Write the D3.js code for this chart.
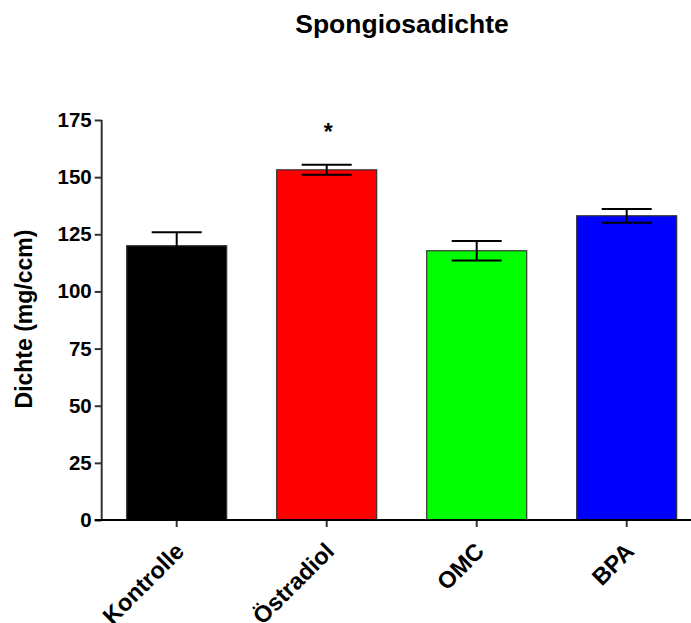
<!DOCTYPE html>
<html>
<head>
<meta charset="utf-8">
<script src="https://cdn.jsdelivr.net/npm/d3@7"></script>
<style>
  body { margin: 0; background: #fff; }
  svg text { font-family: "Liberation Sans", Arial, sans-serif; font-weight: bold; fill: #000; }
</style>
</head>
<body>
<svg id="chart" width="691" height="623"></svg>
<script>
// values
let groups = ['Kontrolle', 'Östradiol', 'OMC', 'BPA'];
let means = [120, 153.2, 117.8, 133.1];
let sems = [5.9, 2.2, 4.3, 3.0];
let barColors = ['#000000', '#ff0000', '#00ff00', '#0000ff'];
let yTicks = [0, 25, 50, 75, 100, 125, 150, 175];
let stars = ['', '*', '', ''];

let svg = d3.select('#chart');

let x = d3.scaleBand()
  .domain(groups)
  .range([101.7, 701.7])
  .paddingInner(1/3)
  .paddingOuter(1/6);

let y = d3.scaleLinear()
  .domain([0, 175])
  .range([520, 120]);

let rows = groups.map((g, i) => ({ name: g, mean: means[i], sem: sems[i], color: barColors[i], star: stars[i] }));

// title
svg.append('text')
  .attr('x', 402)
  .attr('y', 33)
  .attr('text-anchor', 'middle')
  .style('font-size', '26.5px')
  .text('Spongiosadichte');

// y axis label
svg.append('text')
  .attr('transform', 'translate(32,319) rotate(-90)')
  .attr('text-anchor', 'middle')
  .style('font-size', '23px')
  .text('Dichte (mg/ccm)');

// bars
svg.append('g').selectAll('rect')
  .data(rows)
  .join('rect')
  .attr('x', d => x(d.name))
  .attr('y', d => y(d.mean))
  .attr('width', x.bandwidth())
  .attr('height', d => y(0) - y(d.mean))
  .attr('fill', d => d.color)
  .attr('stroke', '#333')
  .attr('stroke-width', 1.2);

// error bars
let err = svg.append('g').attr('stroke', '#000').attr('stroke-width', 2);
rows.forEach(d => {
  let cx = x(d.name) + x.bandwidth() / 2;
  let cap = x.bandwidth() / 4;
  err.append('line')
    .attr('x1', cx).attr('x2', cx)
    .attr('y1', y(d.mean - d.sem)).attr('y2', y(d.mean + d.sem));
  err.append('line')
    .attr('x1', cx - cap).attr('x2', cx + cap)
    .attr('y1', y(d.mean + d.sem)).attr('y2', y(d.mean + d.sem));
  err.append('line')
    .attr('x1', cx - cap).attr('x2', cx + cap)
    .attr('y1', y(d.mean - d.sem)).attr('y2', y(d.mean - d.sem));
});

// significance marks
svg.append('g').selectAll('text')
  .data(rows.filter(d => d.star))
  .join('text')
  .attr('x', d => x(d.name) + x.bandwidth() / 2 + 1.5)
  .attr('y', 140)
  .attr('text-anchor', 'middle')
  .style('font-size', '23px')
  .text(d => d.star);

// y axis
let yAxis = svg.append('g')
  .attr('transform', 'translate(101.7,0)')
  .call(d3.axisLeft(y).tickValues(yTicks).tickSize(7).tickPadding(3));
yAxis.select('.domain').remove();
yAxis.append('line')
  .attr('x1', 0).attr('x2', 0)
  .attr('y1', y(175)).attr('y2', y(0))
  .attr('stroke', '#333').attr('stroke-width', 2);
yAxis.selectAll('.tick line').attr('stroke', '#333').attr('stroke-width', 2);
yAxis.selectAll('.tick text')
  .style('font-size', '20.5px')
  .style('font-family', '"Liberation Sans", Arial, sans-serif')
  .style('font-weight', 'bold')
  .attr('fill', '#000');

// x axis
let xAxis = svg.append('g')
  .attr('transform', 'translate(0,520)')
  .call(d3.axisBottom(x).tickSize(7).tickFormat(''));
xAxis.select('.domain').remove();
xAxis.append('line')
  .attr('x1', 94.7).attr('x2', 701.7)
  .attr('y1', 0).attr('y2', 0)
  .attr('stroke', '#000').attr('stroke-width', 2);
xAxis.selectAll('.tick line').attr('stroke', '#333').attr('stroke-width', 2);

// rotated category labels
svg.append('g').selectAll('text')
  .data(rows)
  .join('text')
  .attr('transform', d => 'translate(' + (x(d.name) + x.bandwidth() / 2 + 3) + ',547) rotate(-45)')
  .attr('text-anchor', 'end')
  .attr('dy', '0.35em')
  .style('font-size', '23.5px')
  .text(d => d.name);
</script>
</body>
</html>
